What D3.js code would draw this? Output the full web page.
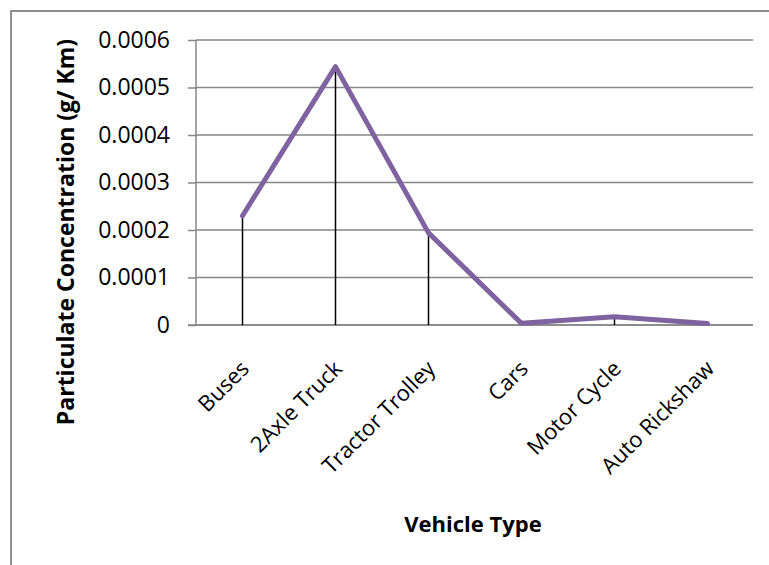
<!DOCTYPE html>
<html>
<head>
<meta charset="utf-8">
<script src="https://cdn.jsdelivr.net/npm/d3@7"></script>
<style>
  html, body { margin: 0; padding: 0; background: #fff; }
  svg { display: block; }
  text { font-family: "Open Sans", Lato, sans-serif; fill: #000; }
</style>
</head>
<body>
<svg id="chart" width="769" height="565"></svg>
<script>
// Particulate emission per vehicle class
const vehicleTypes = ["Buses", "2Axle Truck", "Tractor Trolley", "Cars", "Motor Cycle", "Auto Rickshaw"];
const concentration = [0.00023, 0.000544, 0.000194, 0.0000035, 0.0000175, 0.000003];
const yTicks = [0, 0.0001, 0.0002, 0.0003, 0.0004, 0.0005, 0.0006];

const svg = d3.select("#chart");
const margin = { left: 196, top: 40 };
const plotRight = 754, plotBottom = 325;

// outer chart frame (top and left edges visible)
svg.append("rect")
  .attr("x", 11).attr("y", 11)
  .attr("width", 800).attr("height", 600)
  .attr("fill", "none")
  .attr("stroke", "#8e8e8e")
  .attr("stroke-width", 2);

const x = d3.scaleBand().domain(vehicleTypes).range([margin.left, plotRight]);
const y = d3.scaleLinear().domain([0, 0.0006]).range([plotBottom, margin.top]);

// horizontal gridlines
svg.append("g")
  .selectAll("line")
  .data(yTicks)
  .join("line")
  .attr("x1", margin.left).attr("x2", plotRight - 1)
  .attr("y1", d => y(d)).attr("y2", d => y(d))
  .attr("stroke", "#868686")
  .attr("stroke-width", 1.5);

// y axis
const yAxis = d3.axisLeft(y)
  .tickValues(yTicks)
  .tickSize(8)
  .tickPadding(18)
  .tickFormat(d => d === 0 ? "0" : d3.format(".4f")(d));

const gy = svg.append("g")
  .attr("transform", `translate(${margin.left},0)`)
  .call(yAxis);
gy.select(".domain").attr("stroke", "#868686").attr("stroke-width", 1.5)
  .attr("d", `M0,${margin.top}V${plotBottom}`);
gy.selectAll(".tick line").attr("stroke", "#868686").attr("stroke-width", 1.5);
gy.selectAll(".tick text")
  .attr("font-size", 23)
  .attr("font-family", "'Open Sans', Lato, sans-serif")
  .attr("fill", "#000");

// x axis baseline extends to the left tick length
svg.append("line")
  .attr("x1", margin.left - 8).attr("x2", plotRight - 1)
  .attr("y1", plotBottom).attr("y2", plotBottom)
  .attr("stroke", "#868686").attr("stroke-width", 1.5);

// x labels, rotated
const cx = d => x(d) + x.bandwidth() / 2;
svg.append("g")
  .selectAll("text")
  .data(vehicleTypes)
  .join("text")
  .attr("transform", d => `translate(${cx(d) + 8},${plotBottom + 45}) rotate(-45)`)
  .attr("text-anchor", "end")
  .attr("font-size", 22)
  .text(d => d);

const pts = vehicleTypes.map((v, i) => ({ v, c: concentration[i] }));

// drop lines
svg.append("g")
  .selectAll("line")
  .data(pts)
  .join("line")
  .attr("x1", d => cx(d.v)).attr("x2", d => cx(d.v))
  .attr("y1", d => y(d.c)).attr("y2", plotBottom)
  .attr("stroke", "#000")
  .attr("stroke-width", 1.5);

// series line
const line = d3.line().x(d => cx(d.v)).y(d => y(d.c));
svg.append("path")
  .datum(pts)
  .attr("d", line)
  .attr("fill", "none")
  .attr("stroke", "#7f63a1")
  .attr("stroke-width", 5)
  .attr("stroke-linejoin", "round")
  .attr("stroke-linecap", "round");

// axis titles
svg.append("text")
  .attr("transform", `translate(74,232) rotate(-90)`)
  .attr("text-anchor", "middle")
  .attr("font-size", 23)
  .attr("font-weight", "bold")
  .text("Particulate Concentration (g/ Km)");

svg.append("text")
  .attr("x", 473).attr("y", 532)
  .attr("text-anchor", "middle")
  .attr("font-size", 22)
  .attr("font-weight", "bold")
  .text("Vehicle Type");
</script>
</body>
</html>
